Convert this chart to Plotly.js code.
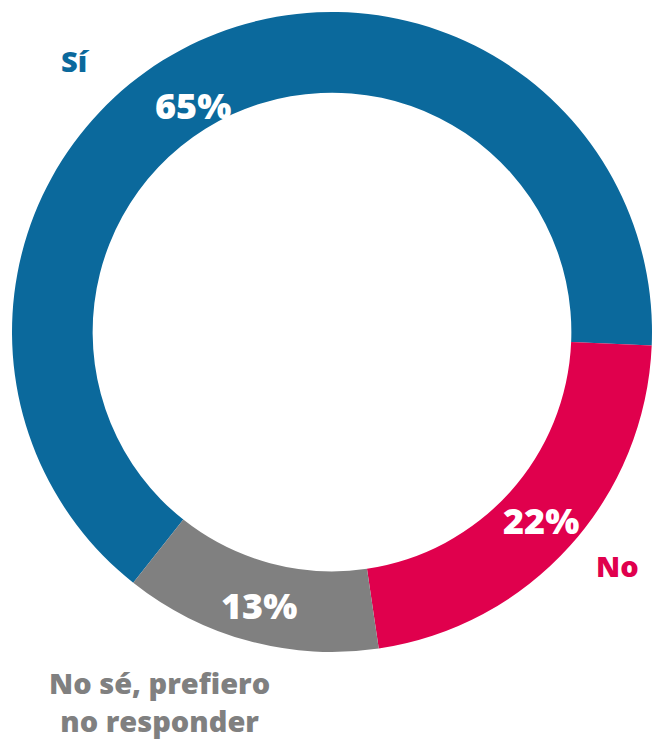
<!DOCTYPE html>
<html>
<head>
<meta charset="utf-8">
<script src="https://cdn.plot.ly/plotly-3.0.1.min.js"></script>
<style>html,body{margin:0;padding:0;background:#fff;}#chart{width:652px;height:740px;}</style>
</head>
<body>
<div id="chart"></div>
<script>
// ---- data ----
const categories = ['Sí', 'No', 'No sé, prefiero<br>no responder'];
const values = [65, 22, 13];
const pctLabels = ['65%', '22%', '13%'];

// ---- style ----
const colors = ['#0b699c', '#e0004d', '#808080'];
const W = 652, H = 740;
const cx = 332, cy = 332, R = 320;
const hole = 0.748;
const startAngle = 92.4; // boundary between "Sí" and "No" (deg clockwise from 12 o'clock)
const FONT = 'Open Sans, Inter, sans-serif';

const total = values.reduce((a, b) => a + b, 0);
// rotation so that data order Sí, No, No sé runs clockwise and Sí ends at startAngle
const rotation = startAngle + (1 - values[0] / total) * 360;

// label placement (angle offset from slice mid, radius) - presentation only
const innerPlace = [{da: -7, r: 266}, {da: 0, r: 281}, {da: 0, r: 283}];
const outerPlace = [{ang: 316.6, r: 374}, {ang: 129.2, r: 369}, {ang: 205.0, r: 408}];

function toPaper(angDeg, r) {
  const a = angDeg * Math.PI / 180;
  const px = cx + r * Math.sin(a);
  const py = cy - r * Math.cos(a);
  return {x: px / W, y: 1 - py / H};
}

const annotations = [];
let acc = rotation;
values.forEach((v, i) => {
  const span = v / total * 360;
  const mid = acc + span / 2;
  acc += span;
  const pin = toPaper(mid + innerPlace[i].da, innerPlace[i].r);
  annotations.push({
    x: pin.x, y: pin.y, xref: 'paper', yref: 'paper', showarrow: false,
    text: pctLabels[i], xanchor: 'center', yanchor: 'middle', borderpad: 0,
    font: {family: FONT, size: 36, color: '#ffffff', weight: 800}
  });
  const pout = toPaper(outerPlace[i].ang, outerPlace[i].r);
  annotations.push({
    x: pout.x, y: pout.y, xref: 'paper', yref: 'paper', showarrow: false,
    text: categories[i], xanchor: 'center', yanchor: 'middle', align: 'center', borderpad: 0,
    font: {family: FONT, size: 29, color: colors[i], weight: 800}
  });
});

const trace = {
  type: 'pie',
  labels: categories,
  values: values,
  hole: hole,
  sort: false,
  direction: 'clockwise',
  rotation: rotation,
  marker: {colors: colors, line: {width: 0}},
  textinfo: 'none',
  hoverinfo: 'none',
  domain: {x: [(cx - R) / W, (cx + R) / W], y: [1 - (cy + R) / H, 1 - (cy - R) / H]}
};

const layout = {
  width: W, height: H,
  margin: {l: 0, r: 0, t: 0, b: 0},
  showlegend: false,
  paper_bgcolor: '#ffffff',
  annotations: annotations
};

Plotly.newPlot('chart', [trace], layout, {displayModeBar: false, staticPlot: true});
</script>
</body>
</html>
